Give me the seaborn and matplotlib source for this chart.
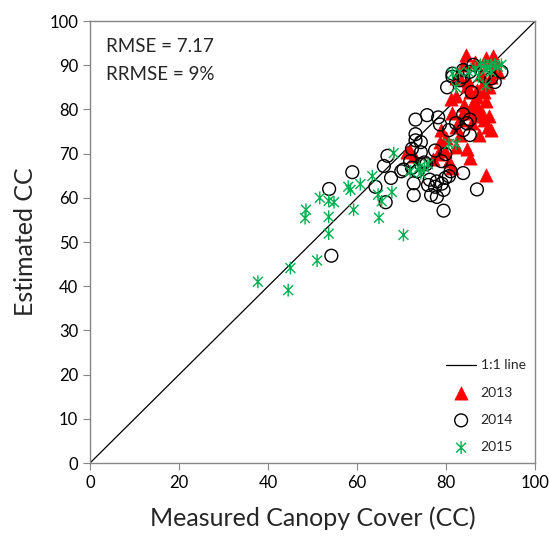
import numpy as np
import pandas as pd
import matplotlib
matplotlib.use("Agg")
import matplotlib.pyplot as plt
from matplotlib.path import Path
import seaborn as sns

# measured vs estimated canopy cover
meas_2013 = [84.4, 88.9, 90.5, 90.9, 83.8, 86.5, 82.2, 81.0, 82.2, 85.3, 86.1, 86.9, 85.7,
             88.1, 89.7, 90.1, 89.3, 87.3, 85.7, 82.2, 83.0, 81.4, 78.9, 78.6, 82.2, 84.6,
             85.3, 80.6, 81.4, 88.9, 77.1, 72.7, 71.9, 78.2, 90.9, 91.6, 90.1, 88.5, 89.7,
             88.5, 86.9, 84.6, 83.0, 87.7, 79.8, 83.0, 88.5, 86.9, 83.8, 71.1, 85.0, 87.0,
             89.0, 86.0, 84.0, 80.0]
est_2013 = [92.2, 91.6, 92.0, 91.2, 90.1, 90.8, 87.0, 82.3, 83.1, 83.9, 81.5, 80.8, 80.0,
            79.2, 78.4, 75.3, 76.1, 74.2, 76.9, 76.1, 77.7, 79.2, 75.3, 72.6, 71.5, 71.1,
            69.1, 68.3, 66.8, 65.2, 68.7, 69.5, 70.7, 69.9, 90.1, 88.5, 87.4, 86.2, 85.0,
            83.9, 82.7, 85.4, 87.0, 88.1, 70.7, 74.2, 77.7, 78.4, 79.2, 70.3, 86.5, 84.5,
            82.0, 79.5, 81.0, 73.5]

meas_2014 = [54.2, 53.7, 58.9, 64.1, 66.4, 66.0, 66.8, 67.6, 69.9, 73.1, 75.7, 73.1, 73.1,
             74.3, 72.3, 71.9, 72.3, 72.7, 72.7, 74.3, 75.1, 75.9, 76.3, 76.6, 77.9, 77.9,
             77.5, 78.2, 78.6, 79.4, 79.4, 79.8, 80.6, 81.0, 83.8, 86.9, 80.2, 81.4, 83.8,
             85.3, 85.7, 83.0, 86.1, 90.9, 92.4, 80.6, 82.2, 83.8, 84.6, 85.3, 83.8, 85.3,
             79.8, 78.9, 70.4, 74.3, 81.4, 83.8, 88.5, 90.1, 75.5, 73.5, 77.5, 79.0]
est_2014 = [46.9, 62.0, 65.8, 62.5, 59.0, 67.2, 69.5, 64.5, 66.0, 77.7, 78.7, 74.4, 73.0,
            72.6, 71.1, 68.3, 66.8, 63.3, 60.6, 70.3, 68.0, 62.9, 64.1, 60.6, 63.7, 60.2,
            70.7, 78.2, 76.6, 61.8, 57.1, 64.5, 64.9, 66.0, 65.6, 61.9, 85.0, 87.4, 88.9,
            88.5, 83.9, 86.6, 90.1, 86.2, 88.5, 75.3, 76.9, 78.9, 76.9, 77.7, 75.3, 74.2,
            69.9, 68.3, 66.4, 67.6, 88.1, 87.4, 87.4, 87.0, 67.6, 66.0, 62.5, 63.2]

meas_2015 = [37.7, 44.5, 45.0, 51.0, 48.5, 48.3, 51.6, 53.6, 54.8, 53.6, 53.6, 58.0, 58.5,
             59.2, 60.7, 63.4, 64.7, 65.5, 64.9, 67.8, 68.2, 70.4, 71.9, 74.3, 75.1, 75.9,
             73.9, 80.6, 82.2, 81.4, 82.2, 83.0, 85.0, 86.5, 88.5, 89.3, 90.1, 90.9, 91.6,
             92.4, 88.9, 87.3, 90.1, 87.7, 88.9]
est_2015 = [41.0, 39.1, 44.1, 45.8, 57.3, 55.4, 60.0, 59.3, 59.0, 55.7, 51.9, 62.5, 61.8,
            57.3, 63.1, 64.9, 60.7, 59.2, 55.5, 61.3, 70.1, 51.6, 66.0, 65.6, 66.8, 67.6,
            66.8, 72.2, 72.2, 88.1, 85.0, 88.5, 88.5, 89.3, 90.1, 89.7, 90.1, 90.2, 89.7,
            90.1, 85.4, 87.4, 88.5, 90.1, 88.9]

line_x = [0, 100]
line_y = [0, 100]

rmse_text = "RMSE = 7.17"
rrmse_text = "RRMSE = 9%"

# excel style star: an x with a vertical bar
star = Path([(-1, -1), (1, 1), (-1, 1), (1, -1), (0, -1.3), (0, 1.3)],
            [Path.MOVETO, Path.LINETO] * 3)


def make_frame():
    parts = []
    for year, m, e in [("2013", meas_2013, est_2013),
                       ("2014", meas_2014, est_2014),
                       ("2015", meas_2015, est_2015)]:
        parts.append(pd.DataFrame({"measured": m, "estimated": e, "year": year}))
    return pd.concat(parts, ignore_index=True)


def plot_chart():
    sns.set_style("white")
    plt.rcParams["font.family"] = ["Lato", "DejaVu Sans"]

    df = make_frame()

    fig = plt.figure(figsize=(5.49, 5.39), dpi=100)
    ax = fig.add_axes([0.164, 0.141, 0.811, 0.82])

    sns.lineplot(x=line_x, y=line_y, color="black", linewidth=0.9, label="1:1 line", ax=ax)

    d = df[df.year == "2013"]
    sns.scatterplot(data=d, x="measured", y="estimated", marker="^", color="#FF0000",
                    edgecolor="#FF0000", linewidth=0.5, s=90, label="2013", ax=ax, zorder=3)
    d = df[df.year == "2014"]
    sns.scatterplot(data=d, x="measured", y="estimated", marker="o", facecolor="none",
                    edgecolor="black", linewidth=1.0, s=85, label="2014", ax=ax, zorder=4)
    d = df[df.year == "2015"]
    sns.scatterplot(data=d, x="measured", y="estimated", marker=star, facecolor="none",
                    edgecolor="#00B050", linewidth=1.0, s=85, label="2015", ax=ax, zorder=5)

    ax.set_xlim(0, 100)
    ax.set_ylim(0, 100)
    ax.set_xticks(range(0, 101, 20))
    ax.set_yticks(range(0, 101, 10))
    ax.tick_params(axis="both", direction="out", length=5, width=0.8, labelsize=12,
                   color="#868686", labelcolor="black", bottom=True, left=True)
    for s in ax.spines.values():
        s.set_color("#868686")
        s.set_linewidth(1.0)

    ax.set_xlabel("Measured Canopy Cover (CC)", fontsize=18, labelpad=11)
    ax.set_ylabel("Estimated CC", fontsize=18, labelpad=9)

    ax.text(3.6, 94.2, rmse_text, fontsize=13.5, va="center", ha="left")
    ax.text(3.6, 88.0, rrmse_text, fontsize=13.5, va="center", ha="left")

    ax.legend(loc="lower right", frameon=False, fontsize=10, labelspacing=1.1,
              handlelength=2.2, handletextpad=0.3, borderaxespad=0.3)

    fig.savefig("out.png", dpi=100)


if __name__ == "__main__":
    plot_chart()
